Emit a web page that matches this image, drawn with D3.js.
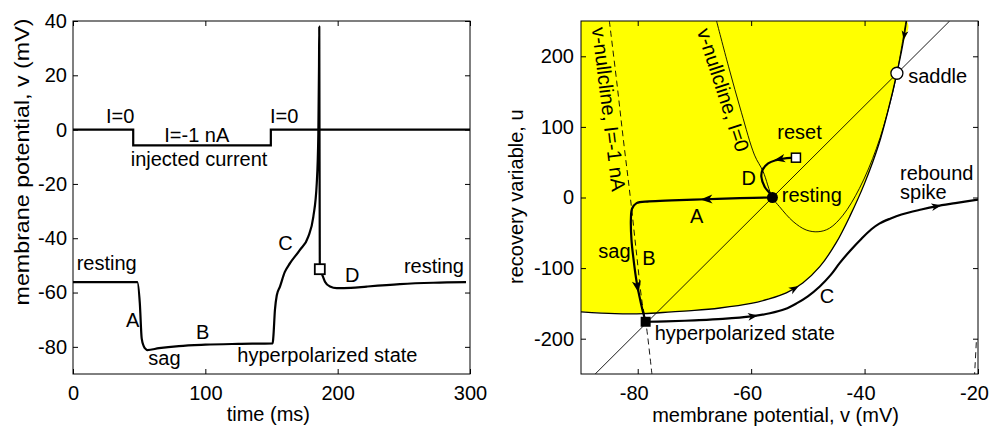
<!DOCTYPE html>
<html><head><meta charset="utf-8">
<script src="https://cdn.jsdelivr.net/npm/d3@7"></script>
<style>
body{margin:0;background:#fff;}
svg text{font-family:"Liberation Sans", Arial, Helvetica, sans-serif;font-size:20px;fill:#000;}
</style></head><body>
<svg id="chart" width="989" height="430"></svg>
<script>
// ---------- LEFT PANEL DATA (time course) ----------
const timeMs = [0, 48.6, 50.5, 51.9, 53.5, 55.2, 56.1, 65, 80, 100, 125, 150.9, 151.4, 152.6, 154, 156.4, 160, 164, 171.5, 177.8, 181.6, 184.2, 185.4, 185.9, 186.1, 186.5, 187.9, 190.4, 194.2, 199.3, 210, 222, 247, 272.3, 297];
const voltage = [-56.2, -56.2, -64, -76.9, -79.8, -80.9, -81.2, -80.5, -79.7, -79.2, -78.9, -78.7, -76.3, -66.4, -61, -57.8, -52.5, -49.2, -44.3, -39.4, -32.1, -19.8, -1.4, 23.2, 37.9, -51.4, -52.9, -56, -57.8, -58.4, -58.3, -57.8, -56.9, -56.4, -56.2];
const currentT = [0, 45.5, 149.5, 300];
const currentLevel = [0, -5.8, 0, 0];
const resetLeft = [186.5, -51.4];
const leftXTicks = [0, 100, 200, 300];
const leftYTicks = [-80, -60, -40, -20, 0, 20, 40];

// ---------- RIGHT PANEL DATA (phase plane) ----------
const sepV = [-32.6, -33.3, -34.3, -35.8, -37.5, -40, -42.5, -45, -47.9, -50.9, -53.8, -57, -60, -65.5, -70, -74, -79, -84, -90];
const sepU = [250, 215, 176, 125, 75, 20, -25, -64, -98, -121, -135, -144, -150, -156.5, -160, -162, -164.5, -164.5, -162];
const nc0V = [-66.1, -64, -61.7, -59.4, -57.9, -56.25, -55, -52.6, -50.3, -48.2, -46.2, -43.8, -40.9, -37.9, -35.6, -34.3, -32.7];
const nc0U = [250, 186, 120, 60, 37, 0, -13, -34, -46, -48.5, -43.6, -25, 13, 69.7, 131, 176, 250];
const nc1V = [-85, -83.7, -82.5, -81.3, -80.2, -79.2, -78.6, -77.5];
const nc1U = [250, 164, 80, 0, -80, -150, -175, -250];
const nc1RightV = [-20.3, -20.45, -20.6];
const nc1RightU = [-205, -228, -250];
const uNullV = [-87.5, -25];
const uNullU = [-250, 250];
const trajDV = [-52.1, -53.7, -55.6, -57, -58, -58.2, -57.6, -56.7, -56.25];
const trajDU = [56.4, 55.8, 53, 48.4, 39, 29.5, 15, 6, 0];
const trajABV = [-56.25, -62, -68, -74, -78, -80.2, -81.0, -81.2, -81.1, -80.7, -80.2, -79.7, -79.2, -78.6];
const trajABU = [0, -1, -2.5, -4, -5.5, -8, -16, -30, -60, -90, -119, -140, -158, -176];
const trajCV = [-78.6, -75, -70, -65, -60, -56.7, -54, -52, -50, -47.9, -46, -44.4, -42.5, -40.5, -38.8, -37.4, -35.5, -33.5, -30, -27.4, -24, -20];
const trajCU = [-176, -175.5, -174, -172, -168.5, -164, -158, -150, -140, -126, -110, -93, -75, -58, -45, -37, -30, -24, -17, -12.5, -8, -3];
const restingPt = [-56.25, 0];
const saddlePt = [-34.3, 176];
const resetPt = [-52.1, 56.4];
const hyperPt = [-78.6, -176];
const rightXTicks = [-80, -60, -40, -20];
const rightYTicks = [-200, -100, 0, 100, 200];

const svg = d3.select("#chart");
const fmt = d => String(d);

// ---------- scales ----------
const xT = d3.scaleLinear().domain([0, 300]).range([73, 470]);
const yV = d3.scaleLinear().domain([-90, 40]).range([374, 21]);
const xR = d3.scaleLinear().domain([-90, -20]).range([581, 978]);
const yR = d3.scaleLinear().domain([-250, 250]).range([374, 21]);

function frame(x, y, xt, yt, xpad, ypad, xshift) {
  const [x0, x1] = x.range(), [y0, y1] = y.range();
  const g = svg.append("g");
  const bx = g.append("g").attr("transform", `translate(0,${y0})`)
    .call(d3.axisBottom(x).tickValues(xt).tickFormat(fmt).tickSizeInner(-5).tickSizeOuter(0).tickPadding(xpad));
  if (xshift) bx.selectAll(".tick text").attr("dx", xshift);
  g.append("g").attr("transform", `translate(${x0},0)`)
    .call(d3.axisLeft(y).tickValues(yt).tickFormat(fmt).tickSizeInner(-5).tickSizeOuter(0).tickPadding(ypad));
  g.append("g").attr("transform", `translate(0,${y1})`)
    .call(d3.axisTop(x).tickValues(xt).tickFormat("").tickSizeInner(-5).tickSizeOuter(0));
  g.append("g").attr("transform", `translate(${x1},0)`)
    .call(d3.axisRight(y).tickValues(yt).tickFormat("").tickSizeInner(-5).tickSizeOuter(0));
  g.selectAll(".domain").remove();
  g.selectAll(".tick line").attr("stroke", "#000").attr("stroke-width", 1);
  g.selectAll(".tick text").style("font-size", "20px").attr("fill", "#000").attr("font-family", null);
  g.append("rect").attr("x", x0).attr("y", y1).attr("width", x1 - x0).attr("height", y0 - y1)
    .attr("fill", "none").attr("stroke", "#000").attr("stroke-width", 1);
  return g;
}

function label(g, txt, x, y, anchor) {
  return g.append("text").attr("x", x).attr("y", y).attr("text-anchor", anchor || "start").text(txt);
}

function addArrow(g, node, px, py, len, reverse) {
  const L = node.getTotalLength();
  let best = 0, bd = Infinity;
  for (let l = 0; l <= L; l += 0.5) {
    const p = node.getPointAtLength(l);
    const d = (p.x - px) ** 2 + (p.y - py) ** 2;
    if (d < bd) { bd = d; best = l; }
  }
  const a = node.getPointAtLength(Math.max(0, best - 2)), b = node.getPointAtLength(Math.min(L, best + 2));
  let ang = Math.atan2(b.y - a.y, b.x - a.x) * 180 / Math.PI;
  if (reverse) ang += 180;
  const p = node.getPointAtLength(best);
  const h = len / 2, w = len * 0.38;
  g.append("path").attr("d", `M${h},0 L${-h},${-w} L${-h * 0.45},0 L${-h},${w} Z`)
    .attr("transform", `translate(${p.x},${p.y}) rotate(${ang})`).attr("fill", "#000");
}

// ================= LEFT PANEL =================
const gl = svg.append("g");
const lineT = d3.line().x(d => xT(d[0])).y(d => yV(d[1]));
gl.append("path").datum(currentT.map((t, i) => [t, currentLevel[i]]))
  .attr("d", lineT.curve(d3.curveStepAfter)).attr("fill", "none").attr("stroke", "#000").attr("stroke-width", 2.2);
gl.append("path").datum(timeMs.map((t, i) => [t, voltage[i]]))
  .attr("d", d3.line().x(d => xT(d[0])).y(d => yV(d[1])).curve(d3.curveMonotoneX))
  .attr("fill", "none").attr("stroke", "#000").attr("stroke-width", 2.2).attr("stroke-linejoin", "round");
gl.append("rect").attr("x", xT(resetLeft[0]) - 5).attr("y", yV(resetLeft[1]) - 5).attr("width", 10).attr("height", 10)
  .attr("fill", "#fff").attr("stroke", "#000").attr("stroke-width", 1.8);
frame(xT, yV, leftXTicks, leftYTicks, 12, 6, 0);

label(gl, "I=0", xT(24.9), yV(2.3));
label(gl, "I=-1 nA", xT(69), yV(-4.45));
label(gl, "injected current", xT(43.6), yV(-13.4));
label(gl, "I=0", xT(148.9), yV(2.3));
label(gl, "resting", xT(2.8), yV(-51.7));
label(gl, "A", xT(40), yV(-72.6));
label(gl, "B", xT(93), yV(-77.2));
label(gl, "sag", xT(56.9), yV(-86.7));
label(gl, "hyperpolarized state", xT(124.2), yV(-85.7));
label(gl, "C", xT(155.1), yV(-44.3));
label(gl, "D", xT(205.5), yV(-56));
label(gl, "resting", xT(250.1), yV(-52.9));
label(gl, "time (ms)", xT(147.6), 421, "middle");
gl.append("text").attr("transform", `translate(29,162) rotate(-90)`).attr("text-anchor", "middle")
  .attr("textLength", 287).attr("lengthAdjust", "spacingAndGlyphs").text("membrane potential, v (mV)");

// ================= RIGHT PANEL =================
svg.append("defs").append("clipPath").attr("id", "clipR").append("rect")
  .attr("x", 581).attr("y", 21).attr("width", 397).attr("height", 353);
const gr = svg.append("g").attr("clip-path", "url(#clipR)");
const lineR = d3.line().x(d => xR(d[0])).y(d => yR(d[1]));
const zip = (a, b) => a.map((v, i) => [v, b[i]]);

// yellow attraction domain
const sepPts = zip(sepV, sepU);
const yellowPts = [[-90, 250]].concat(sepPts);
gr.append("path").attr("d", lineR.curve(d3.curveCatmullRom)(yellowPts) + "Z")
  .attr("fill", "#ffff00").attr("stroke", "none");

// nullclines
const smooth = d3.line().x(d => xR(d[0])).y(d => yR(d[1])).curve(d3.curveCatmullRom);
const straight = d3.line().x(d => xR(d[0])).y(d => yR(d[1]));
gr.append("path").attr("d", smooth(zip(nc0V, nc0U)))
  .attr("fill", "none").attr("stroke", "#000").attr("stroke-width", 0.9);
gr.append("path").attr("d", smooth(zip(nc1V, nc1U)))
  .attr("fill", "none").attr("stroke", "#000").attr("stroke-width", 0.9).attr("stroke-dasharray", "6,4");
gr.append("path").attr("d", straight(zip(nc1RightV, nc1RightU)))
  .attr("fill", "none").attr("stroke", "#000").attr("stroke-width", 0.9).attr("stroke-dasharray", "6,4");
gr.append("path").attr("d", straight(zip(uNullV, uNullU)))
  .attr("fill", "none").attr("stroke", "#000").attr("stroke-width", 0.9);

// separatrix (stable manifold of saddle)
const sepPath = gr.append("path").attr("d", smooth(sepPts))
  .attr("fill", "none").attr("stroke", "#000").attr("stroke-width", 1.3);

// trajectories
const pD = gr.append("path").attr("d", smooth(zip(trajDV, trajDU))).attr("fill", "none").attr("stroke", "#000").attr("stroke-width", 2.2);
const pAB = gr.append("path").attr("d", smooth(zip(trajABV, trajABU))).attr("fill", "none").attr("stroke", "#000").attr("stroke-width", 2.2);
const pC = gr.append("path").attr("d", smooth(zip(trajCV, trajCU))).attr("fill", "none").attr("stroke", "#000").attr("stroke-width", 2.2);

// arrows
addArrow(gr, pD.node(), xR(-55), yR(54.5), 11);
addArrow(gr, pAB.node(), xR(-67.9), yR(-2.5), 12);
addArrow(gr, pAB.node(), xR(-79.7), yR(-126), 12);
addArrow(gr, pC.node(), xR(-59.7), yR(-168), 10);
addArrow(gr, pC.node(), xR(-27.3), yR(-13), 10);
addArrow(gr, sepPath.node(), xR(-52.3), yR(-130), 10, true);
addArrow(gr, sepPath.node(), xR(-33), yR(230), 9);

// equilibria and markers
gr.append("circle").attr("cx", xR(restingPt[0])).attr("cy", yR(restingPt[1])).attr("r", 5.5).attr("fill", "#000");
gr.append("circle").attr("cx", xR(saddlePt[0])).attr("cy", yR(saddlePt[1])).attr("r", 6).attr("fill", "#fff").attr("stroke", "#000").attr("stroke-width", 1.3);
gr.append("rect").attr("x", xR(resetPt[0]) - 4.5).attr("y", yR(resetPt[1]) - 4.5).attr("width", 9).attr("height", 9)
  .attr("fill", "#fff").attr("stroke", "#000").attr("stroke-width", 1.5);
gr.append("rect").attr("x", xR(hyperPt[0]) - 5).attr("y", yR(hyperPt[1]) - 5).attr("width", 10).attr("height", 10).attr("fill", "#000");

frame(xR, yR, rightXTicks, rightYTicks, 12, 7, -4);

const gt = svg.append("g");
gt.append("text").attr("transform", `translate(${xR(-88.1)},${yR(240)}) rotate(83)`).text("v-nullcline, I=-1 nA");
gt.append("text").attr("transform", `translate(${xR(-69.6)},${yR(235.8)}) rotate(72)`).text("v-nullcline, I=0");
label(gt, "reset", xR(-55.4), yR(82.9));
label(gt, "D", xR(-61.7), yR(17.7));
label(gt, "resting", xR(-54.6), yR(-5.9));
label(gt, "saddle", xR(-32.3), yR(161.8));
const rb = gt.append("text").attr("x", xR(-33.75)).attr("y", yR(24.8));
rb.append("tspan").attr("x", xR(-33.75)).text("rebound");
rb.append("tspan").attr("x", xR(-33.75)).attr("dy", yR(-2.5) - yR(24.8)).text("spike");
label(gt, "C", xR(-47.9), yR(-149.9));
label(gt, "hyperpolarized state", xR(-77), yR(-201.8));
label(gt, "A", xR(-70.8), yR(-36.5));
label(gt, "B", xR(-79.2), yR(-95.6));
label(gt, "sag", xR(-86.95), yR(-86.1));
label(gt, "membrane potential, v (mV)", xR(-55.7), 421.5, "middle");
gt.append("text").attr("transform", `translate(523,196.7) rotate(-90)`).attr("text-anchor", "middle").text("recovery variable, u");
</script>
</body></html>
